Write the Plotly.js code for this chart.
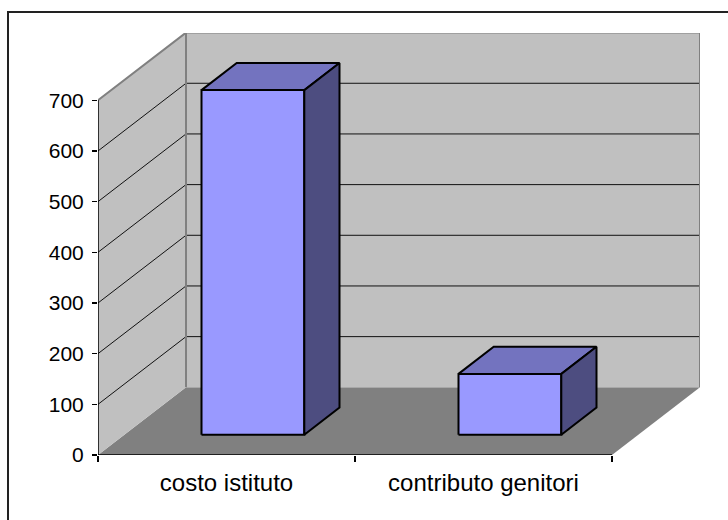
<!DOCTYPE html>
<html>
<head>
<meta charset="utf-8">
<script src="https://cdn.plot.ly/plotly-3.0.1.min.js"></script>
<style>
html,body{margin:0;padding:0;background:#fff;}
#chart{width:728px;height:520px;}
</style>
</head>
<body>
<div id="chart"></div>
<script>
// ---- data ----
const categories = ['costo istituto', 'contributo genitori'];
const values = [680, 120];
const yTickValues = [0, 100, 200, 300, 400, 500, 600, 700];
const yMax = 700;

// ---- 3D oblique projection (depth offset expressed in axis units) ----
const PX_PER_CAT = 257;
const PX_PER_UNIT = 354.7 / 700;
const DX = 88 / PX_PER_CAT;      // depth shift along x (category units)
const DY = 67.7 / PX_PER_UNIT;   // depth shift along y (value units)
const BAR_FRONT = 0.3, BAR_BACK = 0.7;   // depth fraction of bar faces
const BAR_LEFT = 0.3, BAR_RIGHT = 0.7;   // within category slot

function P(c, v, d) { return [c + d * DX, v + d * DY]; }

function poly(points, fill, lineColor, lineWidth) {
  const xs = [], ys = [];
  points.concat([points[0]]).forEach(p => { xs.push(p[0]); ys.push(p[1]); });
  return {
    type: 'scatter', mode: 'lines', x: xs, y: ys,
    fill: 'toself', fillcolor: fill,
    line: { color: lineColor || fill, width: lineWidth || 0 },
    hoverinfo: 'skip', showlegend: false
  };
}
function lines(segments, color, width) {
  const xs = [], ys = [];
  segments.forEach(seg => {
    seg.forEach(p => { xs.push(p[0]); ys.push(p[1]); });
    xs.push(null); ys.push(null);
  });
  return {
    type: 'scatter', mode: 'lines', x: xs, y: ys,
    line: { color: color, width: width },
    hoverinfo: 'skip', showlegend: false, connectgaps: false
  };
}

const nCat = categories.length;
const traces = [];

// floor
traces.push(poly([P(0, 0, 0), P(nCat, 0, 0), P(nCat, 0, 1), P(0, 0, 1)], '#808080'));
// side wall
traces.push(poly([P(0, 0, 0), P(0, 0, 1), P(0, yMax, 1), P(0, yMax, 0)], '#c0c0c0'));
// back wall
traces.push(poly([P(0, 0, 1), P(nCat, 0, 1), P(nCat, yMax, 1), P(0, yMax, 1)], '#c0c0c0'));

// gridlines
const gridSegs = yTickValues.filter(v => v > 0 && v < yMax)
  .map(v => [P(0, v, 0), P(0, v, 1), P(nCat, v, 1)]);
traces.push(lines(gridSegs, '#111111', 1));

// wall borders
traces.push(lines([
  [P(0, yMax, 0), P(0, yMax, 1), P(nCat, yMax, 1), P(nCat, 0, 1)],
  [P(0, yMax, 1), P(0, 0, 1)]
], '#808080', 2));

// bars
values.forEach((val, i) => {
  const l = i + BAR_LEFT, r = i + BAR_RIGHT;
  // front
  traces.push(poly([P(l, 0, BAR_FRONT), P(r, 0, BAR_FRONT), P(r, val, BAR_FRONT), P(l, val, BAR_FRONT)], '#9999ff', '#000000', 2));
  // top
  traces.push(poly([P(l, val, BAR_FRONT), P(r, val, BAR_FRONT), P(r, val, BAR_BACK), P(l, val, BAR_BACK)], '#7373bf', '#000000', 2));
  // side
  traces.push(poly([P(r, 0, BAR_FRONT), P(r, 0, BAR_BACK), P(r, val, BAR_BACK), P(r, val, BAR_FRONT)], '#4d4d80', '#000000', 2));
});

// axis lines
traces.push(lines([[P(0, 0, 0), P(0, yMax, 0)], [P(0, 0, 0), P(nCat, 0, 0)]], '#000000', 1.5));

// second x axis for tick marks only
traces.push({ type: 'scatter', x: [0], y: [0], xaxis: 'x2', mode: 'markers',
  marker: { opacity: 0 }, hoverinfo: 'skip', showlegend: false });

const W = 728, H = 520;
const L = 98, R = 28, T = 33, B = 65;
const xRange = [0, (W - L - R) / PX_PER_CAT];
const yRange = [0, (H - T - B) / PX_PER_UNIT];

const layout = {
  width: W, height: H,
  margin: { l: L, r: R, t: T, b: B, pad: 0 },
  paper_bgcolor: '#ffffff', plot_bgcolor: 'rgba(0,0,0,0)',
  font: { family: 'Liberation Sans, Arial, sans-serif', color: '#000000' },
  showlegend: false,
  xaxis: {
    range: xRange, showgrid: false, zeroline: false, showline: false,
    tickmode: 'array', tickvals: categories.map((c, i) => i + 0.5), ticktext: categories,
    ticks: '', ticklabelstandoff: 11, tickfont: { size: 24, color: '#000' }, fixedrange: true
  },
  xaxis2: {
    overlaying: 'x', anchor: 'y', side: 'bottom', matches: 'x', range: xRange,
    showgrid: false, zeroline: false, showline: false, showticklabels: false,
    tickmode: 'array', tickvals: categories.map((c, i) => i).concat([nCat]),
    ticks: 'outside', ticklen: 6, tickwidth: 1.5, tickcolor: '#000'
  },
  yaxis: {
    range: yRange, showgrid: false, zeroline: false, showline: false,
    tickmode: 'array', tickvals: yTickValues, ticktext: yTickValues.map(String),
    ticks: 'outside', ticklen: 5, tickwidth: 1.5, tickcolor: '#000',
    ticklabelstandoff: 4,
    tickfont: { size: 21, color: '#000' }, fixedrange: true
  },
  shapes: [{
    type: 'rect', xref: 'paper', yref: 'paper',
    x0: (8 - L) / (W - L - R), x1: 1.2,
    y0: -0.5, y1: (H - B - 12) / (H - T - B),
    line: { color: '#222222', width: 2 }, fillcolor: 'rgba(0,0,0,0)', layer: 'below'
  }]
};

Plotly.newPlot('chart', traces, layout, { staticPlot: true, displayModeBar: false });
</script>
</body>
</html>
